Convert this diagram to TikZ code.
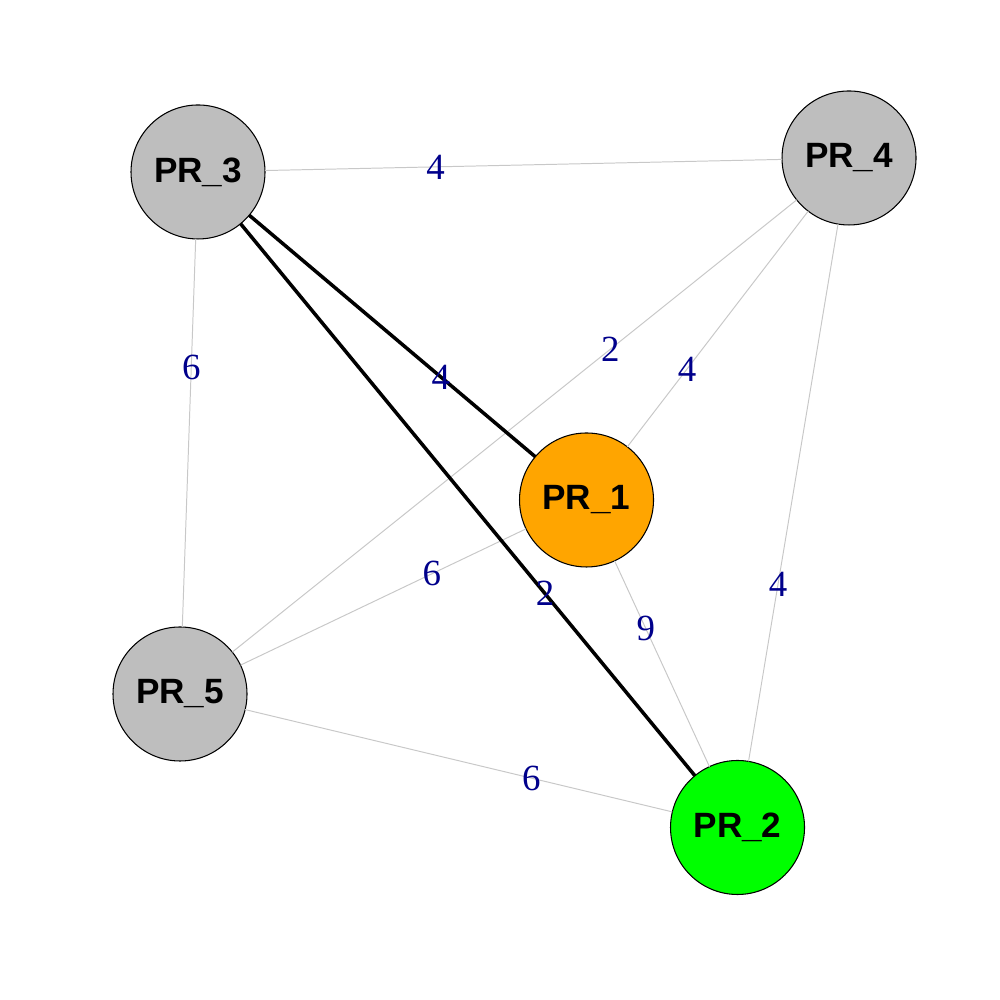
\documentclass[tikz,border=0pt]{standalone}
\usepackage{fontspec}
\setmainfont{Liberation Serif}
\newfontfamily\nodefont{Liberation Sans}
\definecolor{vgray}{HTML}{BEBEBE}
\definecolor{vorange}{HTML}{FFA500}
\definecolor{vgreen}{HTML}{00FF00}
\definecolor{egray}{HTML}{C8C8C8}
\definecolor{lblue}{HTML}{00008B}
\begin{document}
\begin{tikzpicture}
        \useasboundingbox (0,0) rectangle (10,10);

        \begin{scope}[every node/.style={circle,draw,line width=.3pt,minimum size=1.34cm,inner sep=0pt,outer sep=0pt,font=\nodefont\bfseries\fontsize{10}{12}\selectfont}]
          \node[fill=vorange] (PR_1) at (5.865,5.00) {PR\_1};
          \node[fill=vgreen]  (PR_2) at (7.375,1.725) {PR\_2};
          \node[fill=vgray]   (PR_3) at (1.98,8.28) {PR\_3};
          \node[fill=vgray]   (PR_4) at (8.49,8.42) {PR\_4};
          \node[fill=vgray]   (PR_5) at (1.80,3.06) {PR\_5};
        \end{scope}

        \begin{scope}[every node/.style={pos=.33,text=lblue,font=\fontsize{10.5}{12}\selectfont}]

          \begin{scope}[every edge/.style={draw=egray,line width=.28pt}]
            \path (PR_3) edge node {4} (PR_4);
            \path (PR_3) edge node {6} (PR_5);
            \path (PR_4) edge node {2} (PR_5);
            \path (PR_1) edge node {4} (PR_4);
            \path (PR_2) edge node {4} (PR_4);
            \path (PR_1) edge node {6} (PR_5);
            \path (PR_1) edge node {9} (PR_2);
            \path (PR_2) edge node {6} (PR_5);
          \end{scope}

          \begin{scope}[every edge/.style={draw=black,line width=1pt}]
            \path (PR_1) edge node {4} (PR_3);
            \path (PR_2) edge node {2} (PR_3);
          \end{scope}
        \end{scope}

      \end{tikzpicture}
\end{document}
